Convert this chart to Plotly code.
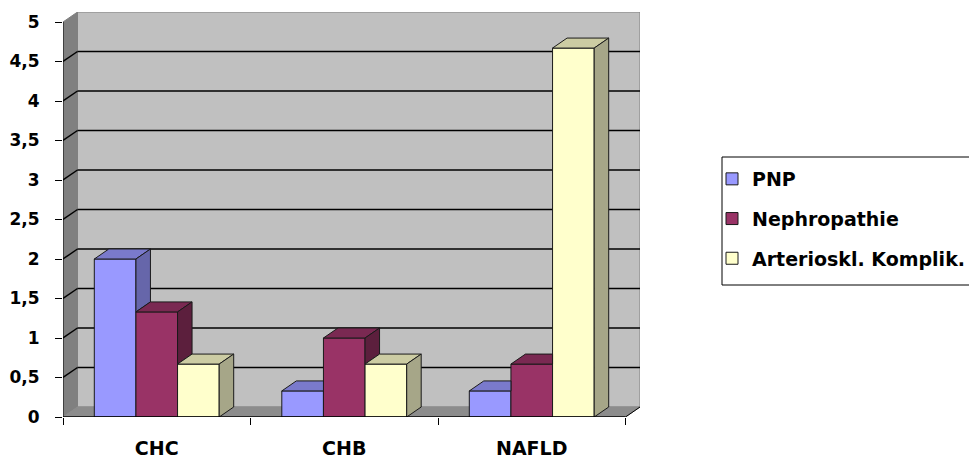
import plotly.graph_objects as go

# ---- data -------------------------------------------------------------
categories = ["CHC", "CHB", "NAFLD"]
series_names = ["PNP", "Nephropathie", "Arterioskl. Komplik."]
pnp = [2.0, 0.33, 0.33]
nephropathie = [1.33, 1.0, 0.67]
arterioskl = [0.67, 0.67, 4.67]
y_tick_values = [0, 0.5, 1, 1.5, 2, 2.5, 3, 3.5, 4, 4.5, 5]
y_tick_labels = ["0", "0,5", "1", "1,5", "2", "2,5", "3", "3,5", "4", "4,5", "5"]

series_values = [pnp, nephropathie, arterioskl]
front_colors = ["#9999FF", "#993366", "#FFFFCC"]
top_colors = ["#7A7ACC", "#7A2952", "#CCCCA3"]
side_colors = ["#6666AA", "#5C1F3D", "#A6A688"]

# ---- geometry ---------------------------------------------------------
W, H = 969, 460
ML, MR, MT, MB = 63, 329, 12, 43
plot_w = W - ML - MR
plot_h = H - MT - MB
n_cat = len(categories)
y_max = max(y_tick_values)

# 3D depth offset in pixels, converted to axis units
DEPTH_X_PX, DEPTH_Y_PX = 14.5, 10.0
dx = DEPTH_X_PX * n_cat / (plot_w - DEPTH_X_PX)
dy = DEPTH_Y_PX * y_max / (plot_h - DEPTH_Y_PX)
x_lo, x_hi = -0.5, n_cat - 0.5
BAR_W = 0.222

FAMILY = "'DejaVu Sans', sans-serif"
TICK_FONT = dict(family=FAMILY, size=17, color="black", weight="bold")
CAT_FONT = dict(family=FAMILY, size=19, color="black", weight="bold")
LEGEND_FONT = dict(family=FAMILY, size=19, color="black", weight="bold")

# legend frame (pixels of the page)
LEG_LEFT, LEG_TOP, LEG_BOTTOM = 722, 157, 285

fig = go.Figure()


def poly(xs, ys, color):
    fig.add_trace(go.Scatter(
        x=xs + [xs[0]], y=ys + [ys[0]], mode="lines", fill="toself",
        fillcolor=color, line=dict(color="#1A1A1A", width=1),
        showlegend=False, hoverinfo="skip"))


# front faces of the columns
for i, (name, vals) in enumerate(zip(series_names, series_values)):
    fig.add_trace(go.Bar(
        x=list(range(n_cat)), y=vals, name=name,
        width=BAR_W, offset=-1.5 * BAR_W + i * BAR_W,
        marker=dict(color=front_colors[i], line=dict(color="#1A1A1A", width=1)),
        legendgroup=name,
    ))

# top and right faces, clipped where the next column hides them
for c in range(n_cat):
    for i, vals in enumerate(series_values):
        v = vals[c]
        xl = c - 1.5 * BAR_W + i * BAR_W
        xr = xl + BAR_W
        vn = series_values[i + 1][c] if i + 1 < len(series_values) else None
        if vn is not None and vn >= v + dy:
            poly([xl, xr, xr, xl + dx], [v, v, v + dy, v + dy], top_colors[i])
        else:
            poly([xl, xr, xr + dx, xl + dx], [v, v, v + dy, v + dy], top_colors[i])
        if vn is None:
            poly([xr, xr + dx, xr + dx, xr], [0, dy, v + dy, v], side_colors[i])
        elif vn < v:
            poly([xr, xr + dx, xr + dx, xr], [vn, vn + dy, v + dy, v], side_colors[i])

# walls, floor and grid
shapes = []


def path_shape(pts, fill, line_color, width=1):
    d = "M " + " L ".join(f"{px},{py}" for px, py in pts) + " Z"
    shapes.append(dict(type="path", path=d, xref="x", yref="y", layer="below",
                       fillcolor=fill, line=dict(color=line_color, width=width)))


path_shape([(x_lo + dx, dy), (x_hi + dx, dy), (x_hi + dx, y_max + dy), (x_lo + dx, y_max + dy)],
           "#C0C0C0", "#808080")
path_shape([(x_lo, 0), (x_lo + dx, dy), (x_lo + dx, y_max + dy), (x_lo, y_max)],
           "#808080", "#808080")
path_shape([(x_lo, 0), (x_hi, 0), (x_hi + dx, dy), (x_lo + dx, dy)],
           "#8C8C8C", "#8C8C8C")

for v in y_tick_values[1:-1]:
    shapes.append(dict(type="line", xref="x", yref="y", layer="below",
                       x0=x_lo, y0=v, x1=x_lo + dx, y1=v + dy,
                       line=dict(color="black", width=1.5)))
    shapes.append(dict(type="line", xref="x", yref="y", layer="below",
                       x0=x_lo + dx, y0=v + dy, x1=x_hi + dx, y1=v + dy,
                       line=dict(color="black", width=1.5)))

# axis edges
shapes.append(dict(type="line", xref="x", yref="y", x0=x_lo, y0=0, x1=x_lo, y1=y_max,
                   line=dict(color="black", width=1), layer="below"))
shapes.append(dict(type="line", xref="x", yref="y", x0=x_lo, y0=0, x1=x_hi, y1=0,
                   line=dict(color="black", width=1.5), layer="above"))
shapes.append(dict(type="line", xref="x", yref="y", x0=x_hi, y0=0, x1=x_hi + dx, y1=dy,
                   line=dict(color="black", width=1), layer="above"))

# legend frame, running off the right edge of the page
shapes.append(dict(type="rect", xref="paper", yref="paper",
                   x0=(LEG_LEFT - ML) / plot_w, x1=(W + 20 - ML) / plot_w,
                   y0=(H - MB - LEG_BOTTOM) / plot_h, y1=(H - MB - LEG_TOP) / plot_h,
                   line=dict(color="black", width=1), fillcolor="rgba(0,0,0,0)",
                   layer="above"))

fig.update_layout(
    width=W, height=H,
    margin=dict(l=ML, r=MR, t=MT, b=MB, autoexpand=False),
    paper_bgcolor="white", plot_bgcolor="white",
    barmode="overlay",
    shapes=shapes,
    font=TICK_FONT,
    showlegend=True,
    legend=dict(
        xref="container", yref="container",
        x=(LEG_LEFT - 10) / W, y=1 - (LEG_TOP + 3) / H, xanchor="left", yanchor="top",
        borderwidth=0, bgcolor="rgba(0,0,0,0)",
        font=LEGEND_FONT, traceorder="grouped", tracegroupgap=12,
        itemwidth=30,
    ),
    xaxis=dict(
        range=[x_lo, x_hi + dx], showgrid=False, zeroline=False, showline=False,
        tickmode="array", tickvals=list(range(n_cat)), ticktext=categories,
        ticks="", ticklabelstandoff=18, tickfont=CAT_FONT, automargin=False,
        minor=dict(tickmode="array", tickvals=[k - 0.5 for k in range(n_cat + 1)],
                   ticks="outside", ticklen=7, tickcolor="black", tickwidth=1),
        fixedrange=True,
    ),
    yaxis=dict(
        range=[0, y_max + dy], showgrid=False, zeroline=False, showline=False,
        tickmode="array", tickvals=y_tick_values, ticktext=y_tick_labels,
        ticks="outside", ticklen=7, tickcolor="black", tickwidth=1,
        ticklabelstandoff=12, tickfont=TICK_FONT, automargin=False, fixedrange=True,
    ),
)

fig.write_html("out.html")
